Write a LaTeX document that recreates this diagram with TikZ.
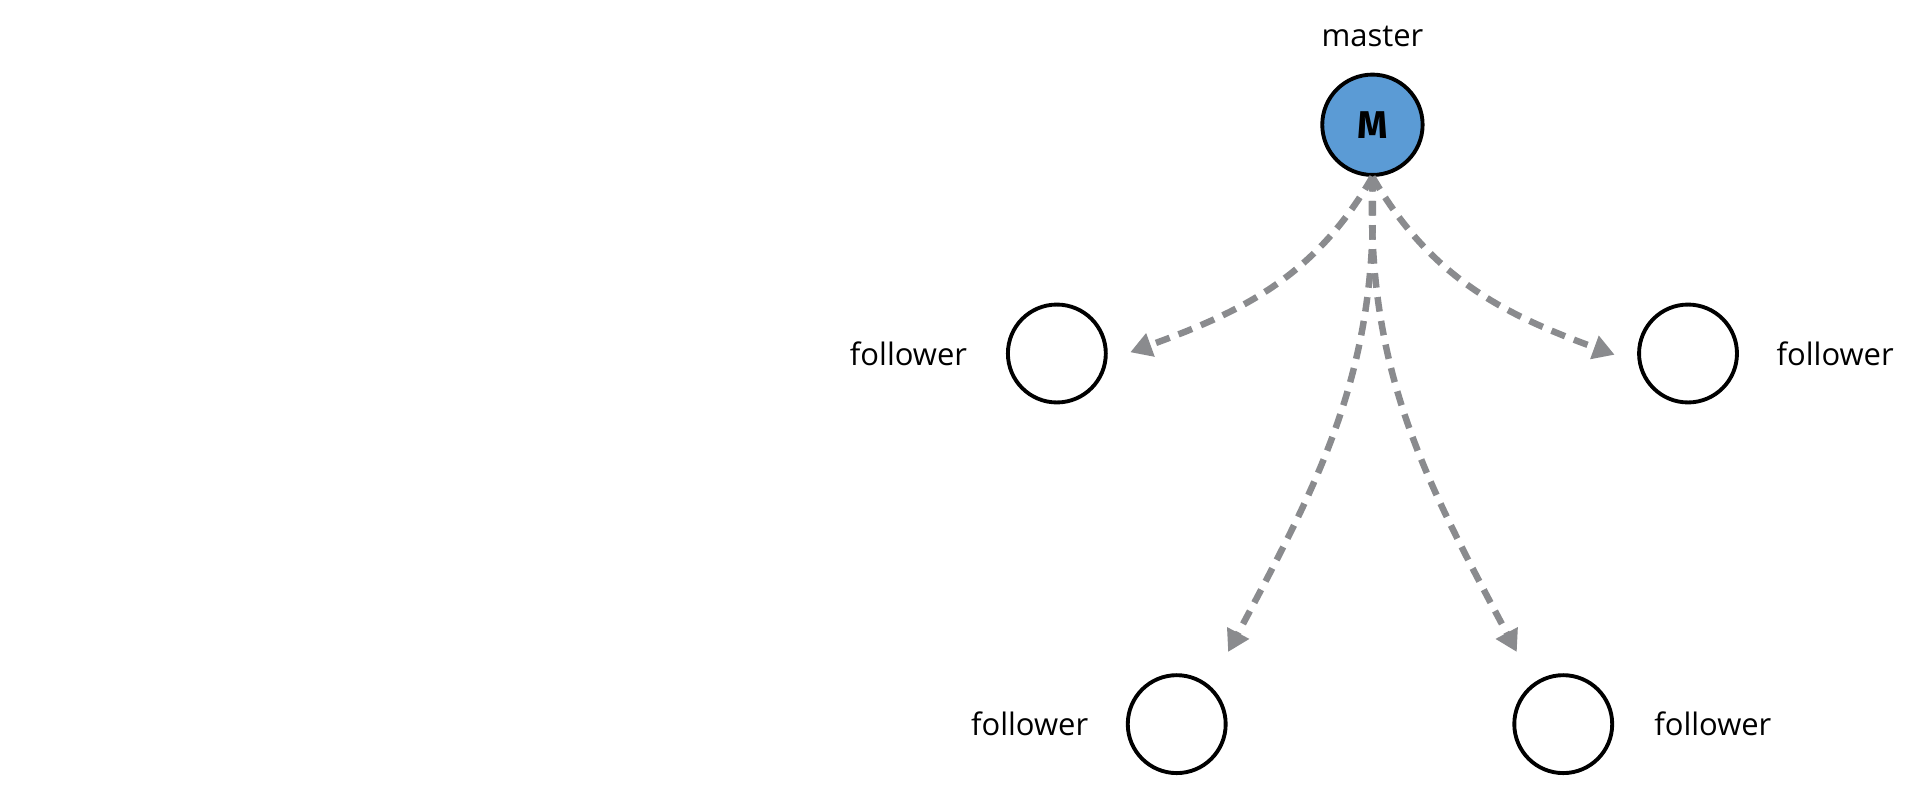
\documentclass[tikz,border=0pt]{standalone}
\usepackage{fontspec}
\setmainfont{Fira Sans}
\usetikzlibrary{arrows.meta}
\definecolor{mblue}{HTML}{5B9BD5}
\definecolor{agray}{HTML}{8A8B8E}
\begin{document}
\begin{tikzpicture}[x=0.01cm,y=0.01cm,
  nd/.style={circle,draw=black,line width=0.9pt,minimum size=80\pgflinewidth*0+2.28cm*0.35,inner sep=0},
  lbl/.style={font=\fontsize{7.2}{8}\selectfont\fontspec{Open Sans}},
  arr/.style={draw=agray,line width=1.5pt,dash pattern=on 3.4pt off 2.2pt,-{Triangle[length=5pt,width=5.5pt]}}]
\useasboundingbox (0,0) rectangle (1568,648);
\node[nd,fill=mblue,minimum size=0.82cm,font=\fontsize{9}{10}\selectfont\bfseries] (m) at (1122,546) {M};
\node[lbl] (ml) at (1122,618) {master};
\node[nd,minimum size=0.8cm] (f1) at (864,359) {};
\node[nd,minimum size=0.8cm] (f2) at (1380,359) {};
\node[nd,minimum size=0.8cm] (f3) at (962,56) {};
\node[nd,minimum size=0.8cm] (f4) at (1278,56) {};
\node[lbl,anchor=east] (l1) at (803,359) {follower};
\node[lbl,anchor=west] (l2) at (1440,359) {follower};
\node[lbl,anchor=east] (l3) at (902,56) {follower};
\node[lbl,anchor=west] (l4) at (1340,56) {follower};
\coordinate (t1) at (924,360);
\coordinate (t2) at (1320,358);
\coordinate (t3) at (1004,115);
\coordinate (t4) at (1240,115);
\draw[arr] (m.south) to[out=-120,in=20] (t1);
\draw[arr] (m.south) to[out=-60,in=160] (t2);
\draw[arr] (m.south) to[out=-88,in=62] (t3);
\draw[arr] (m.south) to[out=-92,in=118] (t4);
\end{tikzpicture}
\end{document}
